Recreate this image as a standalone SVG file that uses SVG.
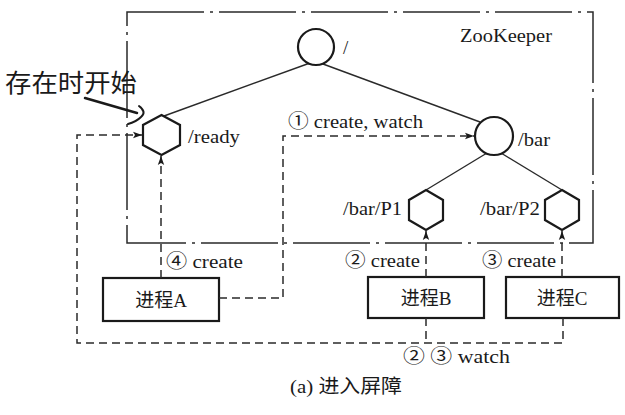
<svg xmlns="http://www.w3.org/2000/svg" width="625" height="415" viewBox="0 0 625 415">
<style>
.bg{fill:#ffffff}
.frame{fill:none;stroke:#2a2a2a;stroke-width:1.5;stroke-dasharray:77 6 3 6}
.edge{fill:none;stroke:#2a2a2a;stroke-width:1.4}
.node{fill:#ffffff;stroke:#1a1a1a;stroke-width:2.2}
.box{fill:#ffffff;stroke:#1a1a1a;stroke-width:2.2}
.dash{fill:none;stroke:#2a2a2a;stroke-width:1.5;stroke-dasharray:8 5}
.lbl{font-family:"Liberation Serif","DejaVu Serif","Noto Sans CJK SC",serif;font-size:19px;fill:#1a1a1a}
.cjk{font-family:"Liberation Serif","Noto Sans CJK SC",serif;font-size:19px;fill:#1a1a1a}
.hand{font-family:"Noto Sans CJK SC",sans-serif;font-size:25px;fill:#1a1a1a;font-weight:normal}
</style>
<defs>
<marker id="arr" markerUnits="userSpaceOnUse" markerWidth="10" markerHeight="8" refX="9" refY="4" orient="auto">
<path d="M0,0.8 L9,4 L0,7.2 L2,4 Z" fill="#1a1a1a"/>
</marker>
</defs>
<rect class="bg" x="0" y="0" width="625" height="415"/>
<g id="zookeeper">
<rect class="frame" x="127" y="12" width="466" height="231"/>
<text class="lbl" x="460" y="42" font-size="20" textLength="92" lengthAdjust="spacingAndGlyphs">ZooKeeper</text>
</g>
<g id="tree-edges">
<line class="edge" x1="310" y1="63" x2="164" y2="116"/>
<line class="edge" x1="323" y1="64" x2="480" y2="122"/>
<line class="edge" x1="487" y1="153" x2="426" y2="190"/>
<line class="edge" x1="501" y1="153" x2="562" y2="190"/>
</g>
<g id="root">
<circle class="node" cx="316" cy="47" r="18"/>
<text class="lbl" x="343" y="54">/</text>
</g>
<g id="bar">
<circle class="node" cx="494" cy="136" r="19"/>
<text class="lbl" x="518" y="146" textLength="32" lengthAdjust="spacingAndGlyphs">/bar</text>
</g>
<g id="ready">
<polygon class="node" points="161.5,115 180,125 180,145 161.5,155 143,145 143,125"/>
<text class="lbl" x="188" y="143" textLength="52" lengthAdjust="spacingAndGlyphs">/ready</text>
</g>
<g id="p1">
<polygon class="node" points="426,190 443,200 443,220 426,230 409,220 409,200"/>
<text class="lbl" x="343" y="215" textLength="59" lengthAdjust="spacingAndGlyphs">/bar/P1</text>
</g>
<g id="p2">
<polygon class="node" points="562,190 579,200 579,220 562,230 545,220 545,200"/>
<text class="lbl" x="480" y="215" textLength="60" lengthAdjust="spacingAndGlyphs">/bar/P2</text>
</g>
<g id="procA">
<rect class="box" x="103" y="278" width="116" height="43"/>
<text class="cjk" x="161" y="307" text-anchor="middle">进程A</text>
</g>
<g id="procB">
<rect class="box" x="368" y="277" width="116" height="41"/>
<text class="cjk" x="426" y="305" text-anchor="middle">进程B</text>
</g>
<g id="procC">
<rect class="box" x="506" y="277" width="113" height="41"/>
<text class="cjk" x="562" y="305" text-anchor="middle">进程C</text>
</g>
<g id="connectors">
<path class="dash" d="M161,278 V156" marker-end="url(#arr)"/>
<path class="dash" d="M219,298 H283 V136 H474" marker-end="url(#arr)"/>
<path class="dash" d="M563,318 V343 H77 V135 H142" marker-end="url(#arr)"/>
<path class="dash" d="M426,318 V343"/>
<path class="dash" d="M426,277 V231" marker-end="url(#arr)"/>
<path class="dash" d="M562,277 V231" marker-end="url(#arr)"/>
<text class="lbl" x="288" y="128" textLength="135" lengthAdjust="spacingAndGlyphs">① create, watch</text>
<text class="lbl" x="166" y="268" textLength="77" lengthAdjust="spacingAndGlyphs">④ create</text>
<text class="lbl" x="345" y="267" textLength="75" lengthAdjust="spacingAndGlyphs">② create</text>
<text class="lbl" x="482" y="267" textLength="74" lengthAdjust="spacingAndGlyphs">③ create</text>
<text class="lbl" x="403" y="363" textLength="107" lengthAdjust="spacingAndGlyphs">②  ③ watch</text>
</g>
<g id="annotation">
<text class="hand" x="5" y="92" textLength="132" lengthAdjust="spacingAndGlyphs">存在时开始</text>
<path d="M85,98 L137,113" fill="none" stroke="#1a1a1a" stroke-width="2.5" stroke-linecap="round"/>
<path d="M139,106 Q147,112 141,117 Q136,122 128,124" fill="none" stroke="#1a1a1a" stroke-width="2" stroke-linecap="round"/>
</g>
<text class="cjk" x="290" y="393" font-size="17" textLength="112" lengthAdjust="spacingAndGlyphs">(a) 进入屏障</text>
</svg>
